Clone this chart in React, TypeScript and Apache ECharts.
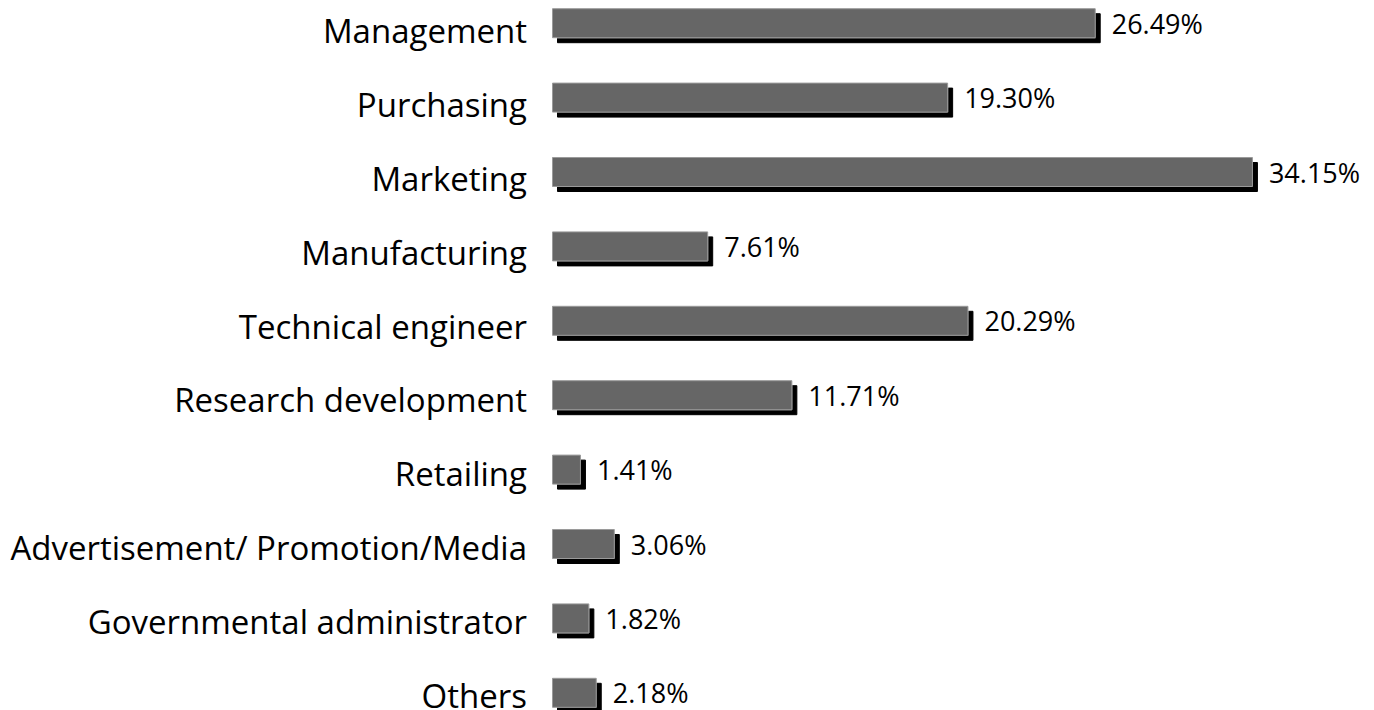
import React, { useEffect, useRef } from "react";
import * as echarts from "echarts";

const categories = [
  "Management",
  "Purchasing",
  "Marketing",
  "Manufacturing",
  "Technical engineer",
  "Research development",
  "Retailing",
  "Advertisement/ Promotion/Media",
  "Governmental administrator",
  "Others",
];
const values = [26.49, 19.3, 34.15, 7.61, 20.29, 11.71, 1.41, 3.06, 1.82, 2.18];

export default function App() {
  const ref = useRef<HTMLDivElement>(null);
  useEffect(() => {
    const chart = echarts.init(ref.current!, null, { renderer: "svg" });
    chart.setOption({
      animation: false,
      grid: [
        { left: 552, top: 0, width: 821, height: 744, containLabel: false },
        { left: 552, top: 8, width: 821, height: 738, containLabel: false },
      ],
      xAxis: [
        { type: "value", min: 0, max: 40, show: false, gridIndex: 0 },
        { type: "value", min: 0, max: 40, show: false, gridIndex: 1 },
      ],
      yAxis: [
        {
          type: "category",
          data: categories,
          inverse: true,
          gridIndex: 0,
          axisLine: { show: false },
          axisTick: { show: false },
          axisLabel: { show: false },
        },
        {
          type: "category",
          data: categories,
          inverse: true,
          gridIndex: 1,
          axisLine: { show: false },
          axisTick: { show: false },
          axisLabel: { fontSize: 33, color: "#000", fontFamily: "Open Sans", margin: 25 },
        },
      ],
      series: [
        {
          type: "bar",
          data: values,
          barWidth: 30,
          xAxisIndex: 0,
          yAxisIndex: 0,
          itemStyle: {
            color: "#666666",
            borderColor: "#9a9a9a",
            borderWidth: 1,
            shadowColor: "#000",
            shadowBlur: 0,
            shadowOffsetX: 5,
            shadowOffsetY: 5,
          },
          label: {
            show: true,
            position: "right",
            distance: 16,
            fontSize: 27,
            color: "#000",
            fontFamily: "Open Sans",
            formatter: (p: any) => p.value.toFixed(2) + "%",
          },
        },
      ],
    });
    return () => chart.dispose();
  }, []);
  return (
    <div style={{ position: "absolute", left: 0, top: 0, width: 1374, height: 710, overflow: "hidden" }}>
      <div ref={ref} style={{ width: 1374, height: 758, position: "absolute", left: 0, top: -14 }} />
    </div>
  );
}
